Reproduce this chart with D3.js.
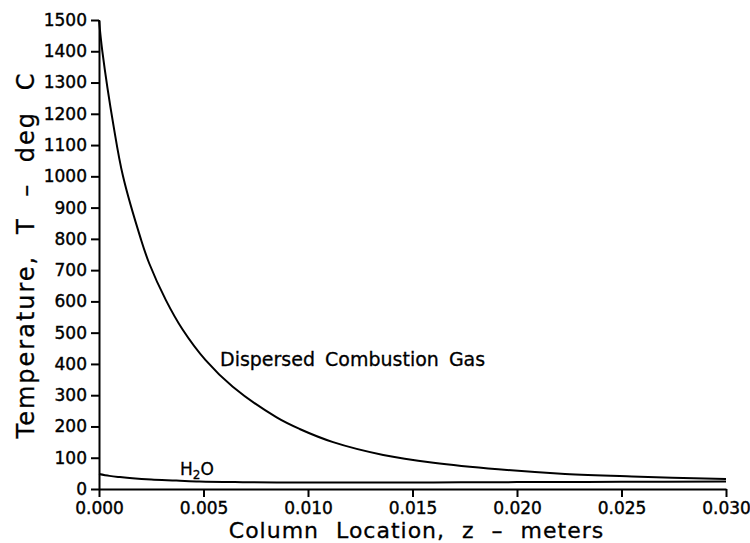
<!DOCTYPE html>
<html>
<head>
<meta charset="utf-8">
<script src="https://cdn.jsdelivr.net/npm/d3@7"></script>
<style>
  body { margin: 0; background: #fff; }
  svg { display: block; }
  text { font-family: "DejaVu Sans", sans-serif; fill: #000; }
</style>
</head>
<body>
<svg id="chart" width="750" height="543"></svg>
<script>
// Temperature profiles along the column (z in meters, T in deg C)
const gasZ = [0, 0.00016, 0.0007, 0.00115, 0.0020, 0.0024, 0.0032, 0.0040, 0.0051, 0.0064, 0.0085, 0.0096, 0.0112, 0.0136, 0.0160, 0.0191, 0.0223, 0.0255, 0.0300];
const gasT = [1500, 1400, 1160, 1000, 800, 722, 604, 510, 412, 327, 229, 192, 150, 109, 84, 63, 48, 40, 32];

const waterZ = [0, 0.0005, 0.0010, 0.0016, 0.0025, 0.0037, 0.0048, 0.0065, 0.0085, 0.0120, 0.0160, 0.0200, 0.0250, 0.0300];
const waterT = [48, 42, 38, 34, 30, 27, 24, 22, 21, 21, 21, 22, 23, 24];

const xTicks = [0, 0.005, 0.010, 0.015, 0.020, 0.025, 0.030];
const yTicks = d3.range(0, 1501, 100);

const svg = d3.select("#chart");
const margin = { left: 99, right: 24, top: 20, bottom: 54 };
const W = 750, H = 543;

const x = d3.scaleLinear().domain([0, 0.030]).range([margin.left, W - margin.right]);
const y = d3.scaleLinear().domain([0, 1500]).range([H - margin.bottom, margin.top]);

// Axes
const xAxis = d3.axisBottom(x).tickValues(xTicks).tickFormat(d3.format(".3f"))
  .tickSizeInner(8).tickSizeOuter(0).tickPadding(5);
const yAxis = d3.axisLeft(y).tickValues(yTicks).tickFormat(d3.format("d"))
  .tickSizeInner(8).tickSizeOuter(0).tickPadding(4);

const gx = svg.append("g").attr("transform", `translate(0,${y(0)})`).call(xAxis);
const gy = svg.append("g").attr("transform", `translate(${x(0)},0)`).call(yAxis);

[gx, gy].forEach(g => {
  g.select(".domain").attr("stroke", "#000").attr("stroke-width", 2);
  g.selectAll(".tick line").attr("stroke", "#000").attr("stroke-width", 2);
  g.selectAll(".tick text").attr("font-size", 17).attr("font-family", "DejaVu Sans")
    .attr("fill", "#000").attr("stroke", "#000").attr("stroke-width", 0.4);
});

// Curves
const line = d3.line().x(d => x(d[0])).y(d => y(d[1])).curve(d3.curveCatmullRom.alpha(0.5));
const gasData = d3.zip(gasZ, gasT);
const waterData = d3.zip(waterZ, waterT);

svg.append("path").datum(gasData).attr("d", line)
  .attr("fill", "none").attr("stroke", "#000").attr("stroke-width", 2);
svg.append("path").datum(waterData).attr("d", line)
  .attr("fill", "none").attr("stroke", "#000").attr("stroke-width", 2);

// Curve labels
svg.append("text").attr("x", 220).attr("y", 366)
  .attr("font-size", 19).attr("word-spacing", 4)
  .attr("stroke", "#000").attr("stroke-width", 0.3)
  .text("Dispersed Combustion Gas");

const h2o = svg.append("text").attr("x", 180).attr("y", 475).attr("font-size", 17)
  .attr("stroke", "#000").attr("stroke-width", 0.3);
h2o.append("tspan").text("H");
h2o.append("tspan").attr("font-size", 12).attr("dy", 4).text("2");
h2o.append("tspan").attr("dy", -4).text("O");

// Axis titles
svg.append("text").attr("x", (234 + 599) / 2).attr("y", 538)
  .attr("text-anchor", "middle").attr("font-size", 22)
  .attr("letter-spacing", 1).attr("word-spacing", 9)
  .attr("stroke", "#000").attr("stroke-width", 0.3)
  .text("Column Location, z \u2013 meters");

svg.append("text")
  .attr("transform", `translate(34,${(70 + 440) / 2}) rotate(-90)`)
  .attr("text-anchor", "middle").attr("font-size", 24)
  .attr("letter-spacing", 2).attr("word-spacing", 11)
  .attr("stroke", "#000").attr("stroke-width", 0.3)
  .text("Temperature, T \u2013 deg C");
</script>
</body>
</html>
